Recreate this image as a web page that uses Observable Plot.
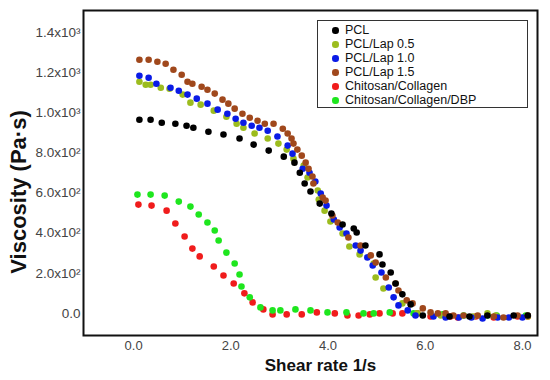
<!DOCTYPE html>
<html>
<head>
<meta charset="utf-8">
<script src="https://cdn.jsdelivr.net/npm/d3@7"></script>
<script src="https://cdn.jsdelivr.net/npm/@observablehq/plot@0.6"></script>
<style>
  html, body { margin: 0; padding: 0; background: #fff; }
  #wrap { position: relative; width: 550px; height: 380px; font-family: "Liberation Sans", Arial, sans-serif; }
  #legend { position: absolute; left: 317px; top: 20px; width: 209px; height: 86px; border: 1.5px solid #333; background: #fff; box-sizing: content-box; }
  #legend .row { position: absolute; left: 0; height: 14px; line-height: 14px; font-size: 12.5px; color: #111; white-space: nowrap; }
  #legend .dot { position: absolute; left: 14px; top: 4px; width: 6.5px; height: 6.5px; border-radius: 50%; }
  #legend .lab { position: absolute; left: 27px; top: 0; }
</style>
</head>
<body>
<div id="wrap"><div id="legend"></div></div>
<script>
// Series names and colours
const seriesNames = ["PCL", "PCL/Lap 0.5", "PCL/Lap 1.0", "PCL/Lap 1.5", "Chitosan/Collagen", "Chitosan/Collagen/DBP"];
const seriesColors = ["#000000", "#9cbc1e", "#0a1be6", "#a0481c", "#f01c1c", "#1ee61e"];

// Axis ticks
const xTicks = [0, 2, 4, 6, 8];
const xTickLabels = ["0.0", "2.0", "4.0", "6.0", "8.0"];
const yTicks = [0, 200, 400, 600, 800, 1000, 1200, 1400];
const yTickLabels = ["0.0", "2.0x10²", "4.0x10²", "6.0x10²", "8.0x10²", "1.0x10³", "1.2x10³", "1.4x10³"];

// Data: [shear rate, viscosity]
const pcl = [[0.12,965],[0.35,965],[0.58,950],[0.86,945],[1.09,935],[1.23,925],[1.54,905],[1.85,891],[2.18,871],[2.47,841],[2.78,811],[3.09,781],[3.31,751],[3.42,701],[3.52,647],[3.64,607],[3.83,547],[4.07,498],[4.30,443],[4.53,423],[4.59,403],[4.77,338],[5.06,294],[5.12,244],[5.29,204],[5.39,149],[5.53,95],[5.70,45],[5.95,-10],[6.50,-15],[6.91,-15],[7.28,-10],[7.82,-10],[8.11,-10]];
const lap05 = [[0.12,1154],[0.25,1139],[0.35,1139],[0.56,1124],[0.74,1119],[1.01,1090],[1.17,1050],[1.38,1040],[1.65,1010],[1.91,980],[2.12,945],[2.26,925],[2.49,896],[2.76,871],[2.98,846],[3.15,816],[3.29,771],[3.50,736],[3.58,677],[3.79,612],[3.81,567],[3.93,512],[4.05,458],[4.30,398],[4.44,333],[4.65,294],[4.94,249],[4.98,179],[5.14,124],[5.53,50],[5.84,0],[6.32,-10],[6.98,-15],[7.28,0],[7.45,-10],[8.11,-15]];
const lap10 = [[0.12,1184],[0.31,1174],[0.47,1144],[0.76,1124],[0.93,1109],[1.11,1090],[1.30,1070],[1.52,1045],[1.73,1015],[1.93,995],[2.10,970],[2.26,950],[2.43,935],[2.59,925],[2.76,910],[2.96,881],[3.17,836],[3.27,796],[3.48,721],[3.62,701],[3.74,657],[3.85,597],[3.97,537],[4.12,468],[4.24,428],[4.38,398],[4.57,338],[4.67,313],[4.81,279],[4.92,239],[5.10,204],[5.25,129],[5.35,80],[5.45,40],[5.64,15],[5.80,-10],[6.17,-15],[6.42,-20],[6.69,-20],[6.95,-20],[7.18,-25],[7.49,-20],[7.72,-20],[8.00,-20]];
const lap15 = [[0.12,1264],[0.31,1264],[0.49,1254],[0.66,1244],[0.82,1214],[0.99,1189],[1.11,1154],[1.21,1144],[1.40,1129],[1.52,1114],[1.67,1095],[1.83,1065],[1.95,1045],[2.08,1020],[2.24,995],[2.39,975],[2.55,960],[2.70,945],[2.88,945],[3.07,920],[3.17,896],[3.25,871],[3.29,846],[3.37,816],[3.46,786],[3.54,751],[3.60,721],[3.68,682],[3.70,647],[3.89,577],[3.95,562],[4.09,488],[4.20,453],[4.42,378],[4.67,338],[4.88,289],[4.98,254],[5.19,179],[5.39,149],[5.45,114],[5.62,65],[5.74,50],[5.95,25],[6.11,5],[6.26,0],[6.42,0],[6.58,-10],[6.79,-10],[7.08,-10],[7.41,-15],[7.61,-20],[7.90,-10],[8.11,-10]];
const chitosan = [[0.10,542],[0.37,537],[0.68,512],[0.86,448],[1.05,383],[1.21,323],[1.36,284],[1.65,234],[1.85,189],[2.06,149],[2.28,100],[2.45,55],[2.67,20],[2.86,-5],[3.15,-5],[3.46,-5],[3.77,5],[4.14,0],[4.40,-10],[4.63,-10],[4.86,-5],[5.06,0],[5.33,0],[5.53,0],[5.84,0],[6.11,-15],[6.52,-15],[6.67,-20],[7.04,-15],[7.41,-20],[7.90,-15],[8.11,-15]];
const dbp = [[0.08,592],[0.35,592],[0.64,587],[0.93,557],[1.17,532],[1.34,493],[1.52,453],[1.67,413],[1.75,363],[1.91,303],[2.08,249],[2.18,194],[2.22,134],[2.39,80],[2.61,30],[2.86,15],[3.02,15],[3.33,20],[3.64,15],[3.99,5],[4.38,5],[4.73,0],[4.94,0],[5.27,5],[5.76,0],[6.36,-5],[6.79,-10],[7.28,-10],[7.47,-10],[8.07,-10]];

const seriesData = [pcl, lap05, lap10, lap15, chitosan, dbp];
// draw order: chitosan, dbp, lap05, lap10, lap15, pcl
const drawOrder = [4, 5, 1, 2, 3, 0];
const rows = [];
for (const k of drawOrder) {
  for (const [x, y] of seriesData[k]) rows.push({series: seriesNames[k], x, y});
}

const plot = Plot.plot({
  width: 550,
  height: 380,
  marginLeft: 83,
  marginRight: 13,
  marginTop: 10,
  marginBottom: 45,
  style: {fontFamily: "'Liberation Sans', Arial, sans-serif", background: "transparent", overflow: "visible"},
  x: {domain: [-1.03, 8.31]},
  y: {domain: [-110, 1509]},
  color: {domain: seriesNames, range: seriesColors},
  marks: [
    Plot.dot(rows, {x: "x", y: "y", fill: "series", r: 3.3}),
    Plot.frame({stroke: "#111", strokeWidth: 2}),
    Plot.axisX({ticks: xTicks, tickFormat: d => xTickLabels[xTicks.indexOf(d)], tickSize: 0, tickPadding: 5, fontSize: 13, color: "#444", label: null}),
    Plot.axisY({ticks: yTicks, tickFormat: d => yTickLabels[yTicks.indexOf(d)], tickSize: 0, tickPadding: 3, fontSize: 13.5, color: "#444", label: null}),
    Plot.text(["Viscosity (Pa·s)"], {frameAnchor: "left", dx: -64.5, dy: 19, rotate: -90, fontSize: 22, fontWeight: "bold", fill: "#111", lineAnchor: "middle", textAnchor: "middle"}),
    Plot.text(["Shear rate 1/s"], {frameAnchor: "bottom", dx: 10, dy: 30.5, fontSize: 17, fontWeight: "bold", fill: "#111", lineAnchor: "middle", textAnchor: "middle"})
  ]
});
const wrap = document.getElementById("wrap");
wrap.insertBefore(plot, wrap.firstChild);

// Legend
const legend = document.getElementById("legend");
seriesNames.forEach((name, i) => {
  const row = document.createElement("div");
  row.className = "row";
  row.style.top = (2 + i * 14) + "px";
  const dot = document.createElement("span");
  dot.className = "dot";
  dot.style.background = seriesColors[i];
  const lab = document.createElement("span");
  lab.className = "lab";
  lab.textContent = name;
  row.appendChild(dot);
  row.appendChild(lab);
  legend.appendChild(row);
});
</script>
</body>
</html>
